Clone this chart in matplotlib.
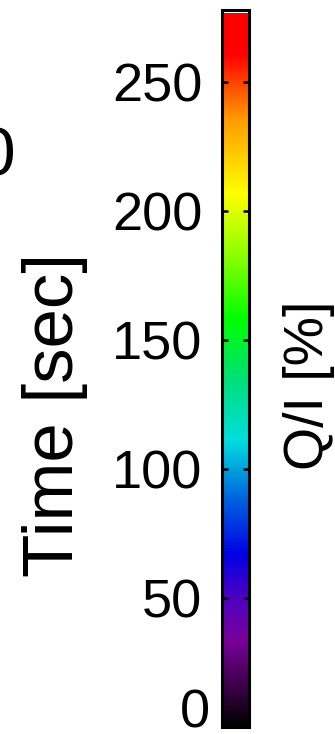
import numpy as np
import matplotlib
matplotlib.use("Agg")
import matplotlib.pyplot as plt
from matplotlib.colors import ListedColormap, Normalize
from matplotlib.cm import ScalarMappable
import matplotlib.transforms as mtransforms

# ---- data ----
time_min = 0
time_max = 278
tick_values = [0, 50, 100, 150, 200, 250]
tick_labels = ["0", "50", "100", "150", "200", "250"]
left_label = "Time [sec]"
right_label = "Q/I [%]"
clipped_text = "0"

# IDL "Rainbow + white" style colour table anchors
anchor_pos = [0.0, 0.06, 0.12, 0.18, 0.24, 0.32, 0.40, 0.48, 0.57, 0.65, 0.745, 0.85, 0.94, 1.0]
anchor_r = [0.0, 0.25, 0.47, 0.30, 0.00, 0.00, 0.00, 0.00, 0.00, 0.50, 1.00, 1.00, 1.00, 1.00]
anchor_g = [0.0, 0.00, 0.00, 0.00, 0.00, 0.40, 0.87, 0.87, 1.00, 1.00, 1.00, 0.60, 0.00, 0.00]
anchor_b = [0.0, 0.30, 0.60, 0.75, 0.90, 0.87, 0.87, 0.50, 0.00, 0.00, 0.00, 0.00, 0.00, 0.00]

xs = np.linspace(0, 1, 256)
cols = np.stack([np.interp(xs, anchor_pos, anchor_r),
                 np.interp(xs, anchor_pos, anchor_g),
                 np.interp(xs, anchor_pos, anchor_b),
                 np.ones_like(xs)], axis=1)
cols[-1] = [1, 1, 1, 1]
cmap = ListedColormap(cols)

plt.rcParams['font.family'] = ['Liberation Sans', 'DejaVu Sans']

W, H = 335, 734
fig = plt.figure(figsize=(W / 100, H / 100), dpi=100)

cax = fig.add_axes([222 / W, (H - 727) / H, 27 / W, 717 / H])
sm = ScalarMappable(norm=Normalize(time_min, time_max), cmap=cmap)
cb = fig.colorbar(sm, cax=cax, orientation='vertical')
cb.outline.set_linewidth(2.2)
cb.outline.set_edgecolor('black')
cb.set_ticks(tick_values)
cb.set_ticklabels(tick_labels)
cax.yaxis.set_ticks_position('both')
cax.yaxis.set_label_position('left')
cax.tick_params(axis='y', which='major', direction='in', length=4, width=1.8,
                labelsize=39, pad=14, left=True, right=True,
                labelleft=True, labelright=False, colors='black')
cax.minorticks_off()

# nudge the "0" label like in the reference
for lab in cax.get_yticklabels():
    if lab.get_text() == "0":
        lab.set_transform(lab.get_transform() +
                          mtransforms.ScaledTranslation(7 / 100, 19 / 100, fig.dpi_scale_trans))

fig.text(55 / W, (H - 415) / H, left_label, rotation=90, ha='center', va='center',
         fontsize=51, color='black')
fig.text(309 / W, (H - 385) / H, right_label, rotation=90, ha='center', va='center',
         fontsize=40, color='black')
fig.text(15 / W, (H - 175) / H, clipped_text, ha='right', va='baseline',
         fontsize=50, color='black')

fig.savefig("out.png", dpi=100)
